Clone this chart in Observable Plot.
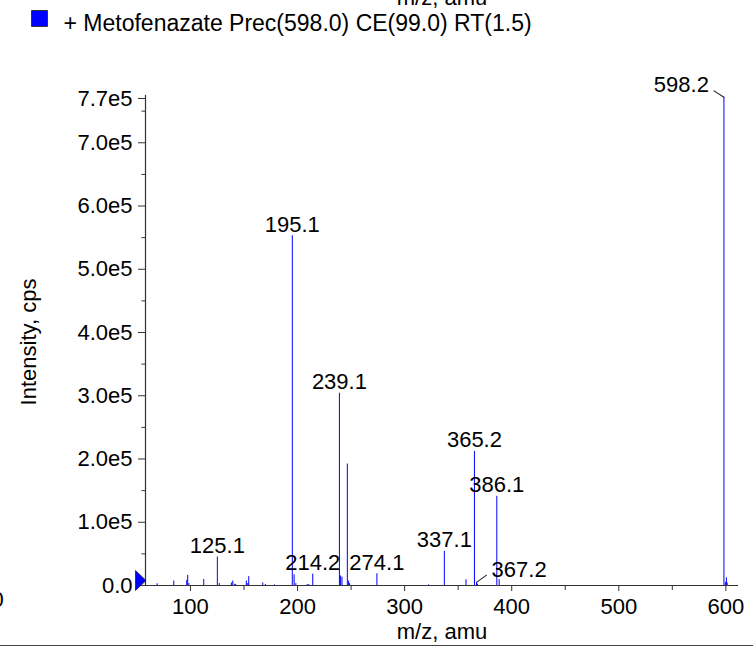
<!DOCTYPE html>
<html>
<head>
<meta charset="utf-8">
<script src="https://cdn.jsdelivr.net/npm/d3@7"></script>
<script src="https://cdn.jsdelivr.net/npm/@observablehq/plot@0.6"></script>
<style>
  html, body { margin: 0; padding: 0; background: white; }
  #wrap { position: relative; width: 753px; height: 651px; overflow: hidden; font-family: "Liberation Sans", Arial, sans-serif; }
  #bottomline { position: absolute; left: 0; top: 645px; width: 753px; border-top: 1.5px solid #444; }
</style>
</head>
<body>
<div id="wrap"><div id="bottomline"></div></div>
<script>
// ---- data ----
const mz = [68.9, 84.4, 96.5, 97.4, 98.5, 112.4, 125.1, 126.9, 138.2, 139.5, 141.3, 142.2,
  152.2, 153.5, 154.4, 167.5, 170.0, 178.4, 195.1, 196.8, 198.4, 208.9, 210.5, 214.2,
  239.1, 240.2, 241.5, 246.5, 247.7, 248.6, 274.1, 322.4, 337.1, 357.3, 365.2, 367.2,
  368.0, 386.1, 388.3, 598.2, 599.5, 600.5, 601.2];
const intensity = [2700, 7000, 8000, 16000, 3000, 9500, 45000, 3000, 4000, 7000, 2000, 1500,
  7000, 3000, 14000, 4000, 1500, 1000, 553000, 17000, 3000, 1500, 1500, 18000,
  304000, 15000, 13000, 192000, 7000, 3000, 18500, 1000, 54000, 9000, 212000, 5000,
  2000, 141000, 9000, 772000, 5000, 12000, 4000];
const labeledPeaks = [125.1, 195.1, 214.2, 239.1, 274.1, 337.1, 365.2, 367.2, 386.1, 598.2];
const yTicks = [0, 1e5, 2e5, 3e5, 4e5, 5e5, 6e5, 7e5, 7.7e5];
const yMinorTicks = [0.5e5, 1.5e5, 2.5e5, 3.5e5, 4.5e5, 5.5e5, 6.5e5, 7.5e5];
const xTicks = [100, 200, 300, 400, 500, 600];
const xMinorTicks = [150, 250, 350, 450, 550];
const legendText = "+ Metofenazate Prec(598.0) CE(99.0) RT(1.5)";
const xLabel = "m/z, amu";
const yLabel = "Intensity, cps";
const xDomain = [58, 611.8];
const yDomain = [0, 7.7e5];

// ---- layout / style (not data) ----
const labelStyle = {
  "598.2": {dx: -15, dy: -5, anchor: "end", leader: {length: 16.6, rotate: -57}},
  "367.2": {dx: 15, dy: -5, anchor: "start", leader: {length: 17.2, rotate: 54}}
};

const peaks = mz.map((m, i) => ({mz: m, i: intensity[i]}));
const labels = labeledPeaks.map(m => {
  const p = peaks.find(d => d.mz === m);
  const s = labelStyle[String(m)] || {dx: 0, dy: -4, anchor: "middle"};
  return {mz: m, i: p.i, text: m.toFixed(1), dx: s.dx, dy: s.dy, anchor: s.anchor, leader: s.leader};
});
const leaders = labels.filter(d => d.leader).map(d => ({mz: d.mz, i: d.i, length: d.leader.length, rotate: d.leader.rotate}));

const fmtY = v => v === 0 ? "0.0" : (v / 1e5).toFixed(1) + "e5";
const lineShape = {draw(ctx, l) { ctx.moveTo(0, 0); ctx.lineTo(0, -l); }};
const triSymbol = {draw(ctx) { ctx.moveTo(-10, -15); ctx.lineTo(0.5, -5); ctx.lineTo(-10, 5); ctx.closePath(); }};
const FS = 22;

const textMarks = ["start", "middle", "end"].map(a =>
  Plot.text(labels.filter(d => d.anchor === a), {
    x: "mz", y: "i", text: "text", textAnchor: a, lineAnchor: "bottom",
    dx: a === "end" ? -15 : a === "start" ? 15 : 0,
    dy: a === "middle" ? -4 : -5,
    fontSize: FS, fill: "black"
  })
);

const chart = Plot.plot({
  width: 753,
  height: 651,
  marginTop: 98,
  marginBottom: 66,
  marginLeft: 145,
  marginRight: 15,
  style: {fontFamily: "'Liberation Sans', Arial, sans-serif", fontSize: FS + "px", color: "black", background: "white"},
  x: {domain: xDomain},
  y: {domain: yDomain},
  marks: [
    Plot.ruleX(peaks, {x: "mz", y: "i", stroke: "#0000ff", strokeWidth: 1}),
    Plot.ruleX([xDomain[0]], {y1: 0, y2: 7.75e5, stroke: "#333", strokeWidth: 1.2}),
    Plot.ruleY([0], {x1: xDomain[0], x2: xDomain[1], stroke: "#333", strokeWidth: 1.2}),
    Plot.axisY(yTicks, {tickSize: 7, tickPadding: 6, tickFormat: fmtY, stroke: "#333", fontSize: FS, label: null}),
    Plot.axisY(yMinorTicks, {tickSize: 3.5, tickFormat: () => "", stroke: "#333", label: null}),
    Plot.axisX(xTicks, {tickSize: 6, tickPadding: 7, stroke: "#333", fontSize: FS, label: null}),
    Plot.axisX(xMinorTicks, {tickSize: 5, tickFormat: () => "", stroke: "#333", label: null}),
    ...textMarks,
    Plot.vector(leaders, {x: "mz", y: "i", length: "length", rotate: "rotate", anchor: "start", shape: lineShape, stroke: "#222", strokeWidth: 1}),
    Plot.dot([0], {frameAnchor: "bottom-left", symbol: triSymbol, fill: "#0000ff", stroke: "#222", strokeWidth: 0.8}),
    Plot.text([xLabel], {frameAnchor: "bottom", dy: 53, lineAnchor: "bottom", fontSize: FS}),
    Plot.text([xLabel], {frameAnchor: "top", dy: -94, lineAnchor: "bottom", fontSize: FS}),
    Plot.text([yLabel], {frameAnchor: "left", dx: -117, rotate: -90, lineAnchor: "middle", textAnchor: "middle", fontSize: FS}),
    Plot.text(["0"], {frameAnchor: "bottom-left", dx: -154, dy: 21, textAnchor: "start", lineAnchor: "bottom", fontSize: FS}),
    Plot.dot([0], {frameAnchor: "top-left", dx: -106, dy: -80, symbol: "square", r: 9, fill: "#0000ff", stroke: "#333", strokeWidth: 1}),
    Plot.text([legendText], {frameAnchor: "top-left", dx: -82, dy: -68, textAnchor: "start", lineAnchor: "bottom", fontSize: 23})
  ]
});
document.getElementById("wrap").appendChild(chart);
</script>
</body>
</html>
